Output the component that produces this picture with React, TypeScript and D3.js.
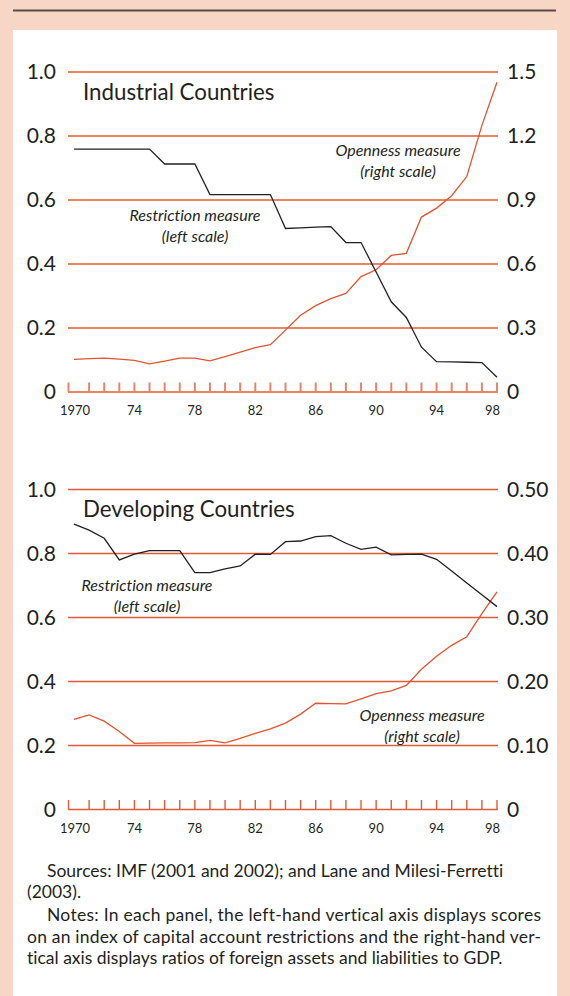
import React from "react";
import * as d3 from "d3";

// ---------- data ----------
const years = [
  1970, 1971, 1972, 1973, 1974, 1975, 1976, 1977, 1978, 1979,
  1980, 1981, 1982, 1983, 1984, 1985, 1986, 1987, 1988, 1989,
  1990, 1991, 1992, 1993, 1994, 1995, 1996, 1997, 1998,
];

const industrialRestriction = [
  0.759, 0.759, 0.759, 0.759, 0.759, 0.759, 0.7125, 0.7125, 0.7125, 0.617,
  0.617, 0.617, 0.617, 0.617, 0.511, 0.513, 0.515, 0.517, 0.467, 0.467,
  0.375, 0.282, 0.233, 0.14, 0.095, 0.094, 0.093, 0.092, 0.046,
];

const industrialOpenness = [
  0.153, 0.156, 0.159, 0.154, 0.148, 0.132, 0.145, 0.159, 0.159, 0.146,
  0.166, 0.187, 0.208, 0.222, 0.29, 0.36, 0.405, 0.438, 0.462, 0.541,
  0.573, 0.64, 0.65, 0.82, 0.862, 0.92, 1.01, 1.25, 1.452,
];

const developingRestriction = [
  0.892, 0.873, 0.8475, 0.78, 0.798, 0.809, 0.809, 0.809, 0.74, 0.74,
  0.752, 0.761, 0.798, 0.797, 0.837, 0.839, 0.853, 0.856, 0.832, 0.813,
  0.82, 0.796, 0.797, 0.798, 0.782, 0.745, 0.708, 0.671, 0.634,
];

const developingOpenness = [
  0.141, 0.1477, 0.138, 0.122, 0.1034, 0.1036, 0.104, 0.1042, 0.1044, 0.108,
  0.104, 0.111, 0.119, 0.126, 0.135, 0.149, 0.166, 0.1655, 0.165, 0.173,
  0.181, 0.1855, 0.194, 0.219, 0.2395, 0.2565, 0.27, 0.306, 0.34,
];

const leftTicks = [0, 0.2, 0.4, 0.6, 0.8, 1.0];
const leftTickLabels = ["0", "0.2", "0.4", "0.6", "0.8", "1.0"];
const industrialRightLabels = ["0", "0.3", "0.6", "0.9", "1.2", "1.5"];
const developingRightLabels = ["0", "0.10", "0.20", "0.30", "0.40", "0.50"];
const yearLabelYears = [1970, 1974, 1978, 1982, 1986, 1990, 1994, 1998];
const yearLabelTexts = ["1970", "74", "78", "82", "86", "90", "94", "98"];

const notesLines = [
  "Sources: IMF (2001 and 2002); and Lane and Milesi-Ferretti",
  "(2003).",
  "Notes: In each panel, the left-hand vertical axis displays scores",
  "on an index of capital account restrictions and the right-hand ver-",
  "tical axis displays ratios of foreign assets and liabilities to GDP.",
];
const notesIndent = [true, false, true, false, false];
const notesJustified = [false, false, true, true, false];

// ---------- style ----------
const FONT = "Lato, 'Open Sans', 'DejaVu Sans', sans-serif";
const PEACH = "#f7d6c6";
const BLACK_LINE = "#231f20";
const RED_LINE = "#e2532f";
const TEXT = "#231f20";

const GRID_LEFT = 68;
const GRID_RIGHT = 498;
const xScale = d3.scaleLinear().domain([1970, 1998]).range([74, 497]);

type PanelProps = {
  title: string;
  y0: number;
  y1: number;
  rightMax: number;
  rightLabels: string[];
  restriction: number[];
  openness: number[];
  gridColor: string;
  gridWidth: number;
  restrictionLabel: { x: number; y: number };
  opennessLabel: { x: number; y: number };
};

function Panel(p: PanelProps) {
  const yLeft = d3.scaleLinear().domain([0, 1]).range([p.y0, p.y1]);
  const yRight = d3.scaleLinear().domain([0, p.rightMax]).range([p.y0, p.y1]);
  const lineLeft = d3
    .line<number>()
    .x((_, i) => xScale(years[i]))
    .y((d) => yLeft(d));
  const lineRight = d3
    .line<number>()
    .x((_, i) => xScale(years[i]))
    .y((d) => yRight(d));

  return (
    <g>
      {leftTicks.map((t, i) => (
        <line
          key={"g" + i}
          x1={GRID_LEFT}
          x2={GRID_RIGHT}
          y1={yLeft(t)}
          y2={yLeft(t)}
          stroke={p.gridColor}
          strokeWidth={p.gridWidth}
        />
      ))}
      {years.map((yr, i) => {
        const x = i === 0 ? GRID_LEFT + 0.5 : xScale(yr);
        return (
          <line
            key={"t" + i}
            x1={x}
            x2={x}
            y1={p.y0}
            y2={p.y0 - 9.5}
            stroke={p.gridColor}
            strokeWidth={p.gridWidth}
          />
        );
      })}
      {leftTicks.map((t, i) => (
        <text key={"l" + i} x={56} y={yLeft(t) + 7} textAnchor="end" fontSize={21} fill={TEXT}>
          {leftTickLabels[i]}
        </text>
      ))}
      {leftTicks.map((t, i) => (
        <text key={"r" + i} x={507} y={yLeft(t) + 7} textAnchor="start" fontSize={21} fill={TEXT}>
          {p.rightLabels[i]}
        </text>
      ))}
      {yearLabelYears.map((yr, i) => {
        const last = i === yearLabelYears.length - 1;
        return (
          <text
            key={"y" + i}
            x={last ? xScale(yr) + 3 : xScale(yr) + (i === 0 ? 1 : 0)}
            y={p.y0 + 23}
            textAnchor={last ? "end" : "middle"}
            fontSize={13}
            fill={TEXT}
          >
            {yearLabelTexts[i]}
          </text>
        );
      })}
      <text x={83} y={p.y1 + 27.5} fontSize={22.3} fill={TEXT}>
        {p.title}
      </text>
      <path d={lineRight(p.openness) || ""} fill="none" stroke={RED_LINE} strokeWidth={1.3} />
      <path d={lineLeft(p.restriction) || ""} fill="none" stroke={BLACK_LINE} strokeWidth={1.3} />
      <text
        x={p.restrictionLabel.x}
        y={p.restrictionLabel.y}
        textAnchor="middle"
        fontSize={16}
        fontStyle="italic"
        fill={TEXT}
      >
        <tspan x={p.restrictionLabel.x}>Restriction measure</tspan>
        <tspan x={p.restrictionLabel.x} dy={21.5}>(left scale)</tspan>
      </text>
      <text
        x={p.opennessLabel.x}
        y={p.opennessLabel.y}
        textAnchor="middle"
        fontSize={16}
        fontStyle="italic"
        fill={TEXT}
      >
        <tspan x={p.opennessLabel.x}>Openness measure</tspan>
        <tspan x={p.opennessLabel.x} dy={21}>(right scale)</tspan>
      </text>
    </g>
  );
}

export default function App() {
  const noteY = [877, 897.5, 921, 942.5, 963.5];
  return (
    <svg
      width={570}
      height={996}
      viewBox="0 0 570 996"
      style={{
        position: "absolute",
        left: 0,
        top: 0,
        fontFamily: FONT,
        fontVariantLigatures: "none",
      }}
    >
      <rect x={0} y={0} width={570} height={996} fill={PEACH} />
      <line x1={13} x2={556} y1={10.5} y2={10.5} stroke="#5b4b45" strokeWidth={2} />
      <rect x={13} y={30} width={544} height={966} fill="#ffffff" />

      <Panel
        title="Industrial Countries"
        y0={392}
        y1={72}
        rightMax={1.5}
        rightLabels={industrialRightLabels}
        restriction={industrialRestriction}
        openness={industrialOpenness}
        gridColor="#e8846a"
        gridWidth={2}
        restrictionLabel={{ x: 195, y: 220.5 }}
        opennessLabel={{ x: 398, y: 155.5 }}
      />
      <Panel
        title="Developing Countries"
        y0={809.5}
        y1={489.5}
        rightMax={0.5}
        rightLabels={developingRightLabels}
        restriction={developingRestriction}
        openness={developingOpenness}
        gridColor="#e05a3a"
        gridWidth={1.4}
        restrictionLabel={{ x: 147, y: 590.5 }}
        opennessLabel={{ x: 422, y: 720.5 }}
      />

      {notesLines.map((t, i) => {
        const x = notesIndent[i] ? 47 : 27;
        const extra = notesJustified[i]
          ? { textLength: 541 - x, lengthAdjust: "spacing" as const }
          : {};
        return (
          <text key={"n" + i} x={x} y={noteY[i]} fontSize={17.5} fill={TEXT} {...extra}>
            {t}
          </text>
        );
      })}
    </svg>
  );
}
